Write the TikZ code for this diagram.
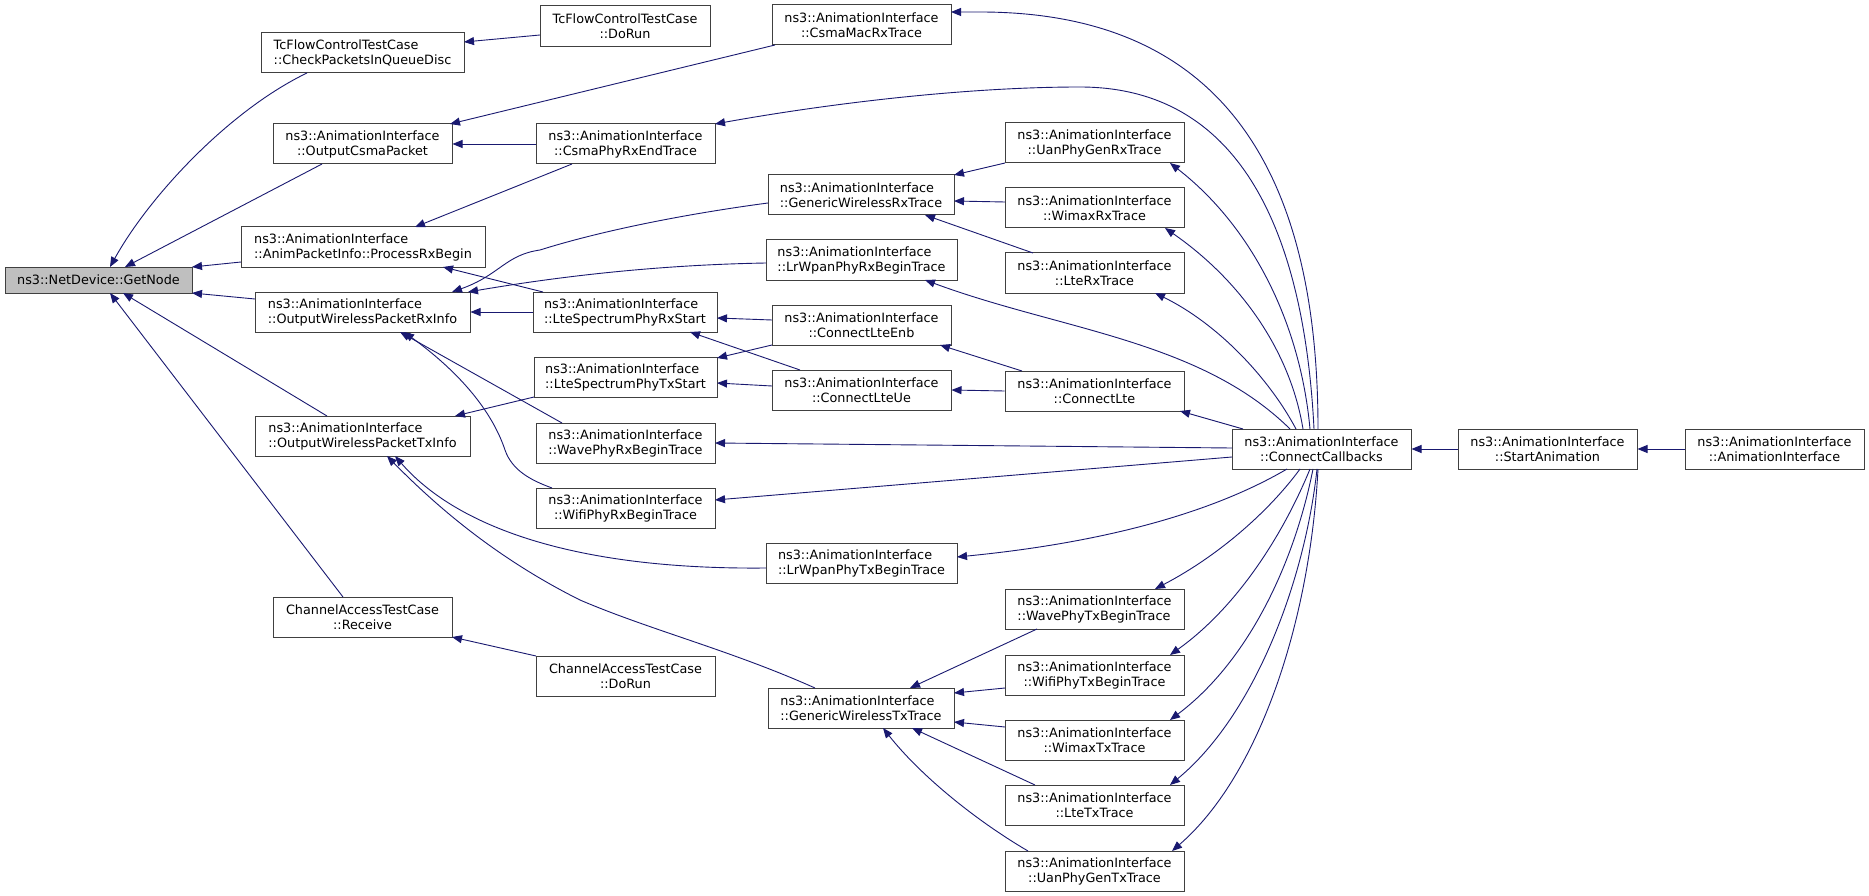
\documentclass[tikz,border=0pt]{standalone}
\usepackage{fontspec}
\setmainfont{DejaVu Sans}
\usetikzlibrary{arrows.meta,calc}
\definecolor{edgec}{HTML}{191970}
\definecolor{boxc}{HTML}{404040}
\definecolor{rootfill}{HTML}{BFBFBF}
\tikzset{
  box/.style={draw=boxc, line width=1pt, fill=white, rectangle, inner sep=0pt,
    minimum height=40pt, minimum width=179pt, align=center,
    font=\fontsize{12.8}{15}\selectfont},
  lbox/.style={box, align=left},
  edge/.style={draw=edgec, line width=0.9pt, arrows={Triangle[length=10pt,width=8pt]-}}
}
\begin{document}
\begin{tikzpicture}[x=1pt,y=-1pt]
\useasboundingbox (0,0) rectangle (1869,896);
\fill[white] (0,0) rectangle (1869,896);

% nodes
\node[box, fill=rootfill, minimum width=187pt, minimum height=26pt] (getnode) at (98.5,280) {ns3::NetDevice::GetNode};
\node[lbox, minimum width=203pt] (checkpk) at (362.5,53) {TcFlowControlTestCase\\::CheckPacketsInQueueDisc};
\node[box, minimum width=170pt, minimum height=41pt] (tcdorun) at (625,26.5) {TcFlowControlTestCase\\::DoRun};
\node[box] (outcsma) at (362.5,144) {ns3::AnimationInterface\\::OutputCsmaPacket};
\node[lbox, minimum width=244pt] (procrx) at (363,247) {ns3::AnimationInterface\\::AnimPacketInfo::ProcessRxBegin};
\node[lbox, minimum width=215pt] (rxinfo) at (362.5,312) {ns3::AnimationInterface\\::OutputWirelessPacketRxInfo};
\node[lbox, minimum width=215pt] (txinfo) at (362.5,436) {ns3::AnimationInterface\\::OutputWirelessPacketTxInfo};
\node[box] (carecv) at (362.5,617) {ChannelAccessTestCase\\::Receive};

\node[box] (csmamac) at (861.5,25) {ns3::AnimationInterface\\::CsmaMacRxTrace};
\node[box] (csmaphy) at (625.5,144) {ns3::AnimationInterface\\::CsmaPhyRxEndTrace};
\node[lbox, minimum width=186pt] (genrx) at (861,195) {ns3::AnimationInterface\\::GenericWirelessRxTrace};
\node[lbox, minimum width=191pt] (lrwrx) at (861.5,260) {ns3::AnimationInterface\\::LrWpanPhyRxBeginTrace};
\node[lbox, minimum width=184pt] (ltespecrx) at (625,312) {ns3::AnimationInterface\\::LteSpectrumPhyRxStart};
\node[box] (lteenb) at (861.5,325) {ns3::AnimationInterface\\::ConnectLteEnb};
\node[lbox, minimum width=183pt] (ltespectx) at (625.5,377) {ns3::AnimationInterface\\::LteSpectrumPhyTxStart};
\node[box] (lteue) at (861.5,390) {ns3::AnimationInterface\\::ConnectLteUe};
\node[box] (waverx) at (625.5,443) {ns3::AnimationInterface\\::WavePhyRxBeginTrace};
\node[box] (wifirx) at (625.5,508) {ns3::AnimationInterface\\::WifiPhyRxBeginTrace};
\node[lbox, minimum width=191pt] (lrwtx) at (861.5,563) {ns3::AnimationInterface\\::LrWpanPhyTxBeginTrace};
\node[box] (cadorun) at (625.5,676) {ChannelAccessTestCase\\::DoRun};
\node[lbox, minimum width=186pt] (gentx) at (861,708) {ns3::AnimationInterface\\::GenericWirelessTxTrace};

\node[box] (uanrx) at (1094.5,143) {ns3::AnimationInterface\\::UanPhyGenRxTrace};
\node[box] (wimaxrx) at (1094.5,208) {ns3::AnimationInterface\\::WimaxRxTrace};
\node[box] (lterx) at (1094.5,273) {ns3::AnimationInterface\\::LteRxTrace};
\node[box] (connlte) at (1094.5,391) {ns3::AnimationInterface\\::ConnectLte};
\node[lbox] (wavetx) at (1094.5,609) {ns3::AnimationInterface\\::WavePhyTxBeginTrace};
\node[box] (wifitx) at (1094.5,675) {ns3::AnimationInterface\\::WifiPhyTxBeginTrace};
\node[box] (wimaxtx) at (1094.5,740) {ns3::AnimationInterface\\::WimaxTxTrace};
\node[box] (ltetx) at (1094.5,805) {ns3::AnimationInterface\\::LteTxTrace};
\node[box] (uantx) at (1094.5,871) {ns3::AnimationInterface\\::UanPhyGenTxTrace};

\node[box] (conncb) at (1321.5,449) {ns3::AnimationInterface\\::ConnectCallbacks};
\node[box] (startanim) at (1547.5,449) {ns3::AnimationInterface\\::StartAnimation};
\node[box] (animif) at (1774.5,449) {ns3::AnimationInterface\\::AnimationInterface};

% edges (arrow at callee)
\draw[edge] ($(getnode)+(11.5,-13)$) .. controls (150,195) and (230,110) .. ($(checkpk)+(-55.5,20)$);
\draw[edge] ($(getnode)+(26.5,-13)$) -- ($(outcsma)+(-40.5,20)$);
\draw[edge] ($(getnode)+(93.5,-13)$) -- ($(procrx)+(-122,15)$);
\draw[edge] ($(getnode)+(93.5,13)$) -- ($(rxinfo)+(-107.5,-13)$);
\draw[edge] ($(getnode)+(24.5,13)$) -- ($(txinfo)+(-35.5,-20)$);
\draw[edge] ($(getnode)+(11.5,13)$) -- ($(carecv)+(-19.5,-20)$);

\draw[edge] ($(checkpk)+(101.5,-11)$) -- ($(tcdorun)+(-85,8.5)$);
\draw[edge] ($(outcsma)+(87.5,-20)$) -- ($(csmamac)+(-86.5,20)$);
\draw[edge] (outcsma.east) -- (csmaphy.west);
\draw[edge] ($(procrx)+(52,-20)$) -- ($(csmaphy)+(-53.5,20)$);
\draw[edge] ($(procrx)+(80,20)$) -- ($(ltespecrx)+(-82,-20)$);
\draw[edge] ($(rxinfo)+(89.5,-20)$) .. controls (500,275) and (505,255) .. (540,250) .. controls (610,228) and (700,212) .. ($(genrx)+(-93,8)$);
\draw[edge] ($(rxinfo)+(105.5,-20)$) .. controls (550,278) and (650,265) .. ($(lrwrx)+(-95.5,3)$);
\draw[edge] (rxinfo.east) -- (ltespecrx.west);
\draw[edge] ($(rxinfo)+(37.5,20)$) -- ($(waverx)+(-63.5,-20)$);
\draw[edge] ($(rxinfo)+(41.5,20)$) .. controls (470,380) and (495,420) .. (505,450) .. controls (512,470) and (530,480) .. ($(wifirx)+(-73.5,-20)$);
\draw[edge] ($(txinfo)+(92.5,-20)$) -- ($(ltespectx)+(-91.5,20)$);
\draw[edge] ($(txinfo)+(32.5,20)$) .. controls (455,525) and (570,570) .. ($(lrwtx)+(-95.5,5)$);
\draw[edge] ($(txinfo)+(24.5,20)$) .. controls (440,510) and (500,560) .. (580,600) .. controls (650,630) and (730,650) .. ($(gentx)+(-46,-20)$);
\draw[edge] ($(carecv)+(89.5,20)$) -- ($(cadorun)+(-89.5,-20)$);

\draw[edge] ($(csmamac)+(89.5,-13)$) -- (980,12) .. controls (1180,12) and (1318,120) .. ($(conncb)+(-3.5,-20)$);
\draw[edge] ($(csmaphy)+(89.5,-20)$) .. controls (820,105) and (960,87) .. (1080,87) .. controls (1250,87) and (1305,250) .. ($(conncb)+(-7.5,-20)$);
\draw[edge] ($(genrx)+(93,-20)$) -- ($(uanrx)+(-89.5,20)$);
\draw[edge] ($(genrx)+(93,6)$) -- ($(wimaxrx)+(-89.5,-6)$);
\draw[edge] ($(genrx)+(64,20)$) -- ($(lterx)+(-61.5,-20)$);
\draw[edge] ($(lrwrx)+(63.5,20)$) .. controls (1060,330) and (1200,340) .. ($(conncb)+(-31.5,-20)$);
\draw[edge] ($(ltespecrx)+(92,6)$) -- ($(lteenb)+(-89.5,-5)$);
\draw[edge] ($(ltespecrx)+(65,20)$) -- ($(lteue)+(-61.5,-20)$);
\draw[edge] ($(ltespectx)+(91.5,-19)$) -- ($(lteenb)+(-89.5,20)$);
\draw[edge] ($(ltespectx)+(91.5,6)$) -- ($(lteue)+(-89.5,-4)$);
\draw[edge] ($(lteenb)+(78.5,20)$) -- ($(connlte)+(-72.5,-20)$);
\draw[edge] (lteue.east) -- (connlte.west);
\draw[edge] ($(waverx)+(89.5,0)$) -- ($(conncb)+(-89.5,-1)$);
\draw[edge] ($(wifirx)+(89.5,-8)$) -- ($(conncb)+(-89.5,8)$);
\draw[edge] ($(lrwtx)+(95.5,-6)$) .. controls (1080,545) and (1200,520) .. ($(conncb)+(-34.5,20)$);
\draw[edge] ($(gentx)+(49,-20)$) -- ($(wavetx)+(-57.5,20)$);
\draw[edge] ($(gentx)+(93,-15)$) -- ($(wifitx)+(-89.5,13)$);
\draw[edge] ($(gentx)+(93,14)$) -- ($(wimaxtx)+(-89.5,-13)$);
\draw[edge] ($(gentx)+(51,20)$) -- ($(ltetx)+(-59.5,-20)$);
\draw[edge] ($(gentx)+(22,20)$) .. controls (920,775) and (975,820) .. ($(uantx)+(-66.5,-20)$);

\draw[edge] ($(uanrx)+(75.5,20)$) .. controls (1250,225) and (1300,320) .. ($(conncb)+(-11.5,-20)$);
\draw[edge] ($(wimaxrx)+(70.5,20)$) .. controls (1240,280) and (1290,350) .. ($(conncb)+(-18.5,-20)$);
\draw[edge] ($(lterx)+(60.5,20)$) .. controls (1220,325) and (1270,380) .. ($(conncb)+(-25.5,-20)$);
\draw[edge] ($(connlte)+(85.5,20)$) -- ($(conncb)+(-78.5,-20)$);
\draw[edge] ($(wavetx)+(60.5,-20)$) .. controls (1220,555) and (1270,510) .. ($(conncb)+(-21.5,20)$);
\draw[edge] ($(wifitx)+(75.5,-20)$) .. controls (1240,605) and (1285,530) .. ($(conncb)+(-11.5,20)$);
\draw[edge] ($(wimaxtx)+(75.5,-20)$) .. controls (1250,660) and (1295,560) .. ($(conncb)+(-8.5,20)$);
\draw[edge] ($(ltetx)+(75.5,-20)$) .. controls (1255,715) and (1305,580) .. ($(conncb)+(-4.5,20)$);
\draw[edge] ($(uantx)+(77.5,-20)$) .. controls (1260,775) and (1310,620) .. ($(conncb)+(-3.5,20)$);
\draw[edge] (conncb.east) -- (startanim.west);
\draw[edge] (startanim.east) -- (animif.west);
\end{tikzpicture}
\end{document}
